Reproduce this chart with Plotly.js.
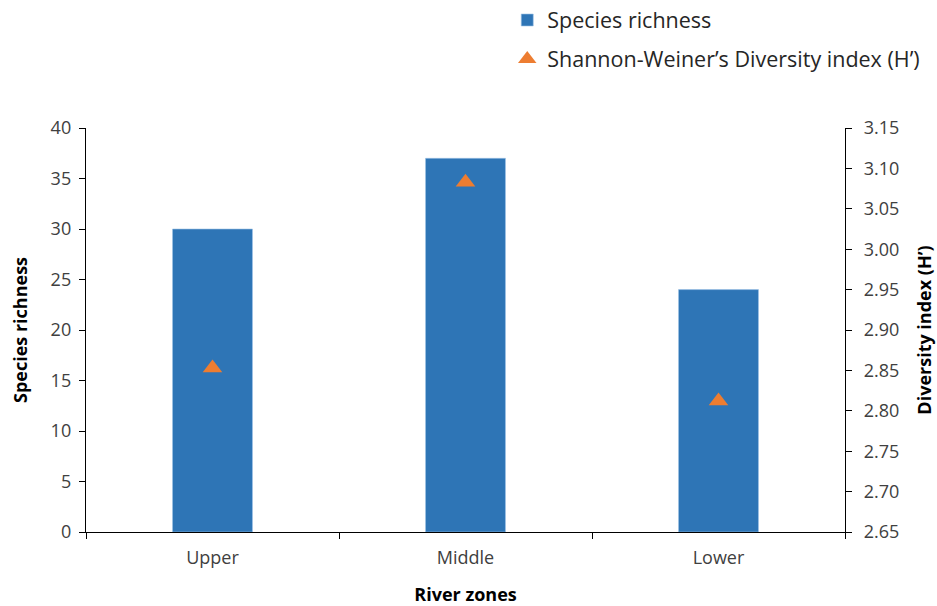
<!DOCTYPE html>
<html>
<head>
<meta charset="utf-8">
<script src="https://cdn.plot.ly/plotly-3.0.1.min.js"></script>
<style>html,body{margin:0;padding:0;background:#fff;}#chart{width:937px;height:606px;}</style>
</head>
<body>
<div id="chart"></div>
<script>
const zones = ["Upper", "Middle", "Lower"];
const speciesRichness = [30, 37, 24];
const diversityIndex = [2.853, 3.083, 2.812];
const leftTicks = [0, 5, 10, 15, 20, 25, 30, 35, 40];
const rightTicks = [2.65, 2.70, 2.75, 2.80, 2.85, 2.90, 2.95, 3.00, 3.05, 3.10, 3.15];

const FONT = "Open Sans, DejaVu Sans, sans-serif";

const traces = [
  {
    type: "bar",
    x: zones,
    y: speciesRichness,
    name: "Species richness",
    legendgroup: "a",
    marker: {color: "#2E75B6", line: {color: "#9DC3E6", width: 0.6}},
    width: 0.316,
    yaxis: "y"
  },
  {
    type: "scatter",
    mode: "markers",
    x: zones,
    y: diversityIndex,
    name: "Shannon-Weiner\u2019s Diversity index (H\u2019)",
    legendgroup: "b",
    marker: {symbol: "triangle-up", size: 17, color: "#ED7D31"},
    yaxis: "y2"
  }
];

const layout = {
  width: 937,
  height: 606,
  margin: {l: 86, r: 92, t: 128, b: 74, autoexpand: false},
  paper_bgcolor: "#fff",
  plot_bgcolor: "#fff",
  font: {family: FONT, size: 18, color: "#404040"},
  showlegend: true,
  legend: {
    x: 0.555, y: 1.318, xanchor: "left", yanchor: "top",
    traceorder: "grouped", tracegroupgap: 8,
    font: {family: FONT, size: 21.5, color: "#262626"},
    bgcolor: "rgba(0,0,0,0)"
  },
  bargap: 0,
  xaxis: {
    type: "category",
    showline: true, linecolor: "#000", linewidth: 1.2,
    ticks: "outside", tickson: "boundaries", ticklen: 6, tickcolor: "#000",
    showgrid: false, zeroline: false,
    ticklabelstandoff: 9,
    tickfont: {family: FONT, size: 18, color: "#404040"},
    title: {text: "<b>River zones</b>", font: {family: FONT, size: 18, color: "#000"}, standoff: 20}
  },
  yaxis: {
    range: [0, 40],
    tickvals: leftTicks,
    showline: true, linecolor: "#000", linewidth: 1.2,
    ticks: "outside", ticklen: 6, tickcolor: "#000",
    showgrid: false, zeroline: false,
    ticklabelstandoff: 4,
    tickfont: {family: FONT, size: 18, color: "#404040"},
    title: {text: "<b>Species richness</b>", font: {family: FONT, size: 18, color: "#000"}, standoff: 18}
  },
  yaxis2: {
    range: [2.65, 3.15],
    tickvals: rightTicks,
    tickformat: ".2f",
    overlaying: "y",
    side: "right",
    showline: true, linecolor: "#000", linewidth: 1.2,
    ticks: "outside", ticklen: 6, tickcolor: "#000",
    showgrid: false, zeroline: false,
    ticklabelstandoff: 8,
    tickfont: {family: FONT, size: 18, color: "#404040"},
    title: {text: "<b>Diversity index (H\u2019)</b>", font: {family: FONT, size: 18, color: "#000"}, standoff: 20}
  }
};

Plotly.newPlot("chart", traces, layout, {displayModeBar: false, staticPlot: true});
</script>
</body>
</html>
